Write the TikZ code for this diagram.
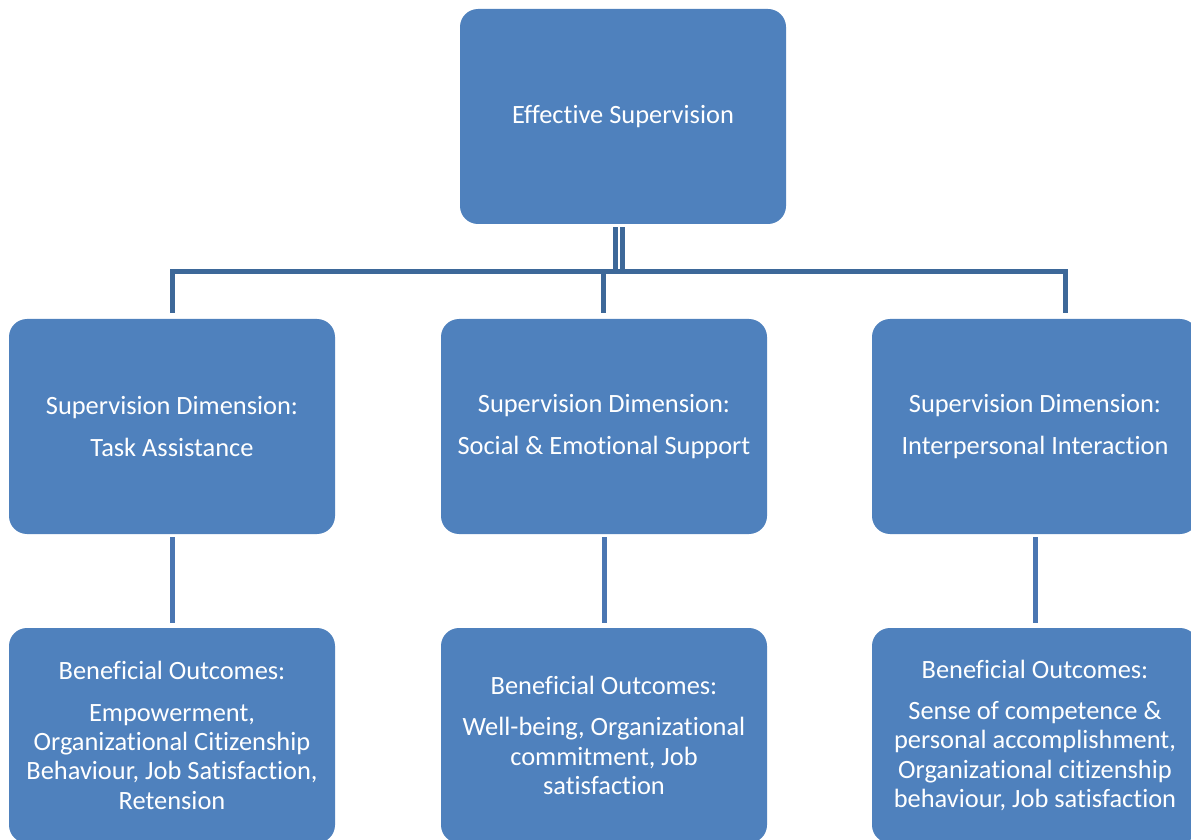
\documentclass[tikz,border=0pt]{standalone}
\usepackage{fontspec}
\setmainfont[Ligatures=NoCommon]{Carlito}
\definecolor{fondboite}{HTML}{4F81BD}
\definecolor{lienhaut}{HTML}{3D6899}
\definecolor{lienbas}{HTML}{4A76B2}
\begin{document}
\begin{tikzpicture}[x=0.5pt,y=-0.5pt]
		\tikzstyle{boite}=[fill=fondboite,rounded corners=9pt,minimum width=163pt,minimum height=107.5pt,inner sep=0pt,text=white,align=center,font=\fontsize{13.2}{14.65}\selectfont]
		\tikzstyle{lienA}=[draw=lienhaut,line width=2.5pt]
		\tikzstyle{lienB}=[draw=lienbas,line width=2.5pt]
		\def\Saut{\\[6pt]}
		\clip (0,0) rectangle (1191,840);
		\useasboundingbox (0,0) rectangle (1191,840);
		\node[boite] (ES) at (623,116.5) {Effective Supervision};
		\node[boite] (DimA) at (172,426.5) {Supervision Dimension:\Saut Task Assistance};
		\node[boite] (DimB) at (604,426.5) {Supervision Dimension:\Saut Social \& Emotional Support};
		\node[boite] (DimC) at (1035,426.5) {Supervision Dimension:\Saut Interpersonal Interaction};
		\node[boite] (ResA) at (172,735.5) {Beneficial Outcomes:\Saut Empowerment,\\Organizational Citizenship\\Behaviour, Job Satisfaction,\\Retension};
		\node[boite] (ResB) at (604,735.5) {Beneficial Outcomes:\Saut Well-being, Organizational\\commitment, Job\\satisfaction};
		\node[boite] (ResC) at (1035,735.5) {Beneficial Outcomes:\Saut Sense of competence \&\\personal accomplishment,\\Organizational citizenship\\behaviour, Job satisfaction};
		\coordinate (Jg) at (615,272);
		\coordinate (Jd) at (622.5,272);
		\coordinate (Hg) at (172.5,272);
		\coordinate (Hm) at (603.5,272);
		\coordinate (Hd) at (1065.5,272);
		\draw[lienA,shorten <=1.5pt] (Jg |- ES.south) -- (Jg);
		\draw[lienA,shorten <=1.5pt] (Jd |- ES.south) -- (Jd);
		\draw[lienA,shorten <=3pt,shorten >=3pt] (Hg |- DimA.north) -- (Hg) -- (Hd) -- (Hd |- DimC.north);
		\draw[lienA,shorten >=3pt] (Hm) -- (Hm |- DimB.north);
		\draw[lienB,shorten <=1.5pt,shorten >=2.5pt] (DimA.south) -- (ResA.north);
		\draw[lienB,shorten <=1.5pt,shorten >=2.5pt] (DimB.south) -- (ResB.north);
		\draw[lienB,shorten <=1.5pt,shorten >=2.5pt] (DimC.south) -- (ResC.north);
	\end{tikzpicture}
\end{document}
